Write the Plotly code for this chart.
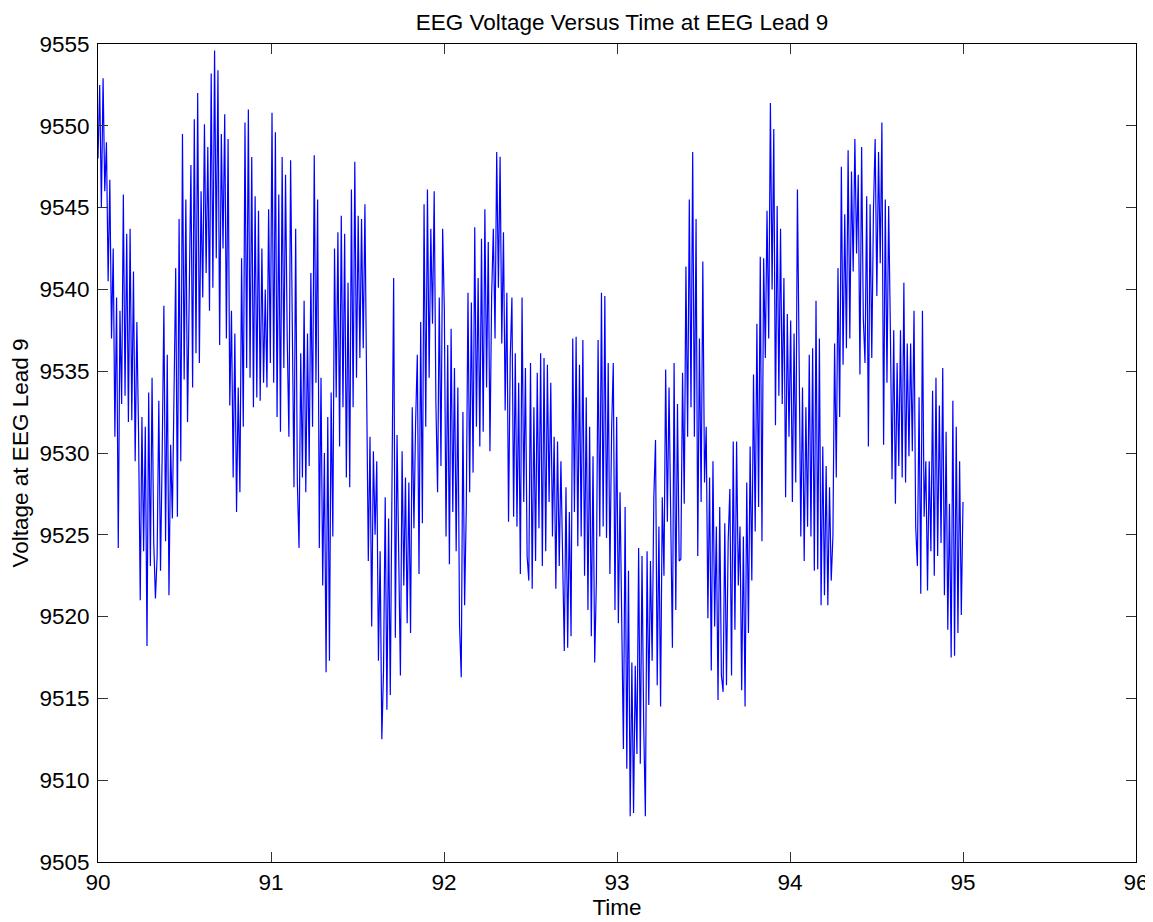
import numpy as np
import plotly.graph_objects as go

# EEG lead 9 voltage samples (time 90 s -> 95 s)
t_start = 90.0
t_end = 95.0
voltage = [
    9548.0, 9552.5, 9545.0, 9552.9, 9546.0,
    9549.0, 9540.5, 9546.7, 9537.0, 9542.5,
    9531.0, 9539.5, 9524.2, 9538.7, 9533.0,
    9545.8, 9533.5, 9543.4, 9531.9, 9543.7,
    9532.0, 9541.1, 9529.5, 9538.0, 9531.3,
    9521.0, 9532.2, 9524.0, 9531.6, 9518.2,
    9533.7, 9523.1, 9534.6, 9524.5, 9521.1,
    9523.7, 9533.2, 9522.8, 9530.0, 9539.0,
    9524.6, 9536.0, 9521.3, 9530.5, 9526.0,
    9532.8, 9541.3, 9526.1, 9544.3, 9529.5,
    9549.5, 9534.5, 9545.5, 9531.9, 9540.0,
    9547.6, 9534.0, 9550.4, 9536.1, 9552.0,
    9535.5, 9546.0, 9539.5, 9550.1, 9541.0,
    9548.7, 9538.7, 9553.2, 9540.1, 9554.6,
    9541.9, 9553.4, 9536.6, 9549.5, 9542.5,
    9550.7, 9537.0, 9549.2, 9532.9, 9538.7,
    9528.5, 9537.3, 9526.4, 9534.0, 9527.6,
    9541.9, 9531.6, 9550.2, 9535.2, 9551.0,
    9534.6, 9548.1, 9532.8, 9545.7, 9533.4,
    9544.8, 9533.2, 9542.5, 9534.3, 9540.0,
    9534.0, 9544.9, 9535.5, 9550.8, 9534.3,
    9549.6, 9532.2, 9545.8, 9531.3, 9548.1,
    9535.2, 9547.0, 9537.0, 9531.0, 9547.9,
    9537.5, 9527.9, 9543.7, 9528.2, 9524.2,
    9536.1, 9528.5, 9539.3, 9527.6, 9537.3,
    9529.2, 9541.0, 9531.6, 9548.2, 9534.3,
    9545.5, 9524.2, 9534.6, 9521.9, 9530.0,
    9516.6, 9532.2, 9517.3, 9533.7, 9524.9,
    9542.5, 9533.4, 9543.5, 9530.4, 9544.5,
    9532.8, 9543.4, 9528.5, 9540.4, 9527.9,
    9546.1, 9532.8, 9547.8, 9534.6, 9544.5,
    9535.8, 9544.3, 9536.4, 9545.2, 9534.0,
    9523.4, 9531.0, 9519.4, 9530.1, 9525.0,
    9529.5, 9517.3, 9524.0, 9512.5, 9516.7,
    9527.3, 9514.3, 9526.0, 9515.2, 9528.2,
    9540.7, 9518.7, 9531.1, 9523.7, 9516.4,
    9530.1, 9521.9, 9528.5, 9519.6, 9528.2,
    9519.0, 9532.8, 9525.4, 9531.9, 9536.0,
    9522.6, 9538.0, 9525.7, 9545.2, 9531.6,
    9546.1, 9534.6, 9543.7, 9537.9, 9546.0,
    9533.1, 9527.6, 9539.5, 9529.2, 9543.7,
    9538.7, 9524.9, 9536.6, 9523.2, 9537.6,
    9526.4, 9535.2, 9524.0, 9534.0, 9519.5,
    9516.3, 9532.5, 9520.7, 9526.7, 9539.8,
    9527.6, 9539.2, 9528.8, 9543.8, 9531.6,
    9540.7, 9530.4, 9543.1, 9531.3, 9544.9,
    9534.0, 9542.9, 9530.1, 9539.6, 9543.7,
    9537.0, 9548.4, 9540.1, 9548.1, 9536.7,
    9543.5, 9532.6, 9539.8, 9525.8, 9535.8,
    9539.5, 9526.1, 9536.1, 9525.5, 9534.3,
    9522.6, 9539.5, 9527.0, 9535.2, 9523.7,
    9522.2, 9535.5, 9521.7, 9532.8, 9523.4,
    9534.9, 9525.4, 9536.1, 9523.1, 9535.8,
    9524.0, 9535.4, 9527.0, 9534.3, 9524.9,
    9531.0, 9521.7, 9530.7, 9523.1, 9529.5,
    9523.4, 9517.9, 9527.9, 9518.1, 9526.4,
    9518.8, 9537.0, 9526.4, 9537.1, 9524.3,
    9535.4, 9524.9, 9536.9, 9522.5, 9533.4,
    9520.4, 9531.6, 9518.8, 9529.8, 9517.2,
    9522.2, 9536.9, 9524.9, 9539.8, 9525.5,
    9539.6, 9524.8, 9535.5, 9522.6, 9531.4,
    9535.5, 9520.4, 9532.2, 9519.6, 9527.6,
    9519.3, 9511.9, 9526.7, 9510.7, 9522.8,
    9507.8, 9517.2, 9508.0, 9517.0, 9511.6,
    9524.2, 9511.0, 9523.7, 9513.4, 9507.8,
    9524.0, 9514.6, 9523.4, 9517.3, 9527.3,
    9530.8, 9515.8, 9525.5, 9514.5, 9527.3,
    9522.5, 9535.1, 9525.8, 9534.0, 9526.7,
    9518.1, 9535.5, 9520.4, 9533.0, 9523.4,
    9523.5, 9534.9, 9526.9, 9541.4, 9531.0,
    9545.5, 9532.8, 9548.4, 9531.0, 9544.3,
    9523.7, 9537.0, 9527.0, 9541.7, 9528.2,
    9531.6, 9519.9, 9528.5, 9516.7, 9529.5,
    9519.4, 9525.5, 9514.9, 9526.7, 9516.4,
    9515.4, 9525.7, 9515.8, 9524.6, 9527.8,
    9516.4, 9530.7, 9519.2, 9530.7, 9521.9,
    9525.5, 9515.5, 9524.9, 9514.5, 9528.2,
    9519.0, 9530.4, 9522.2, 9534.8, 9525.2,
    9537.9, 9526.7, 9542.0, 9524.6, 9541.9,
    9535.8, 9544.8, 9537.0, 9551.4, 9540.0,
    9549.8, 9531.7, 9545.1, 9533.5, 9543.7,
    9533.0, 9540.7, 9527.3, 9538.5, 9531.0,
    9538.1, 9527.0, 9537.3, 9528.2, 9546.1,
    9535.8, 9524.9, 9534.0, 9523.4, 9532.8,
    9525.5, 9536.0, 9524.9, 9536.4, 9522.8,
    9539.3, 9522.9, 9537.0, 9520.7, 9530.4,
    9521.3, 9529.2, 9520.7, 9527.9, 9522.2,
    9524.9, 9536.7, 9528.5, 9541.3, 9532.2,
    9547.5, 9535.4, 9544.6, 9536.4, 9548.5,
    9537.0, 9547.2, 9541.1, 9549.2, 9542.2,
    9547.0, 9534.8, 9548.7, 9538.2, 9535.5,
    9545.7, 9530.4, 9545.2, 9535.8, 9544.9,
    9549.2, 9539.6, 9548.4, 9541.6, 9550.2,
    9530.5, 9545.5, 9534.3, 9545.1, 9537.6,
    9528.4, 9537.5, 9526.9, 9535.5, 9529.2,
    9537.5, 9528.5, 9540.4, 9528.2, 9536.7,
    9529.8, 9536.7, 9530.1, 9538.7, 9525.5,
    9523.1, 9533.4, 9521.4, 9538.7, 9526.1,
    9529.5, 9521.6, 9529.5, 9524.0, 9533.8,
    9522.5, 9534.6, 9523.7, 9532.9, 9524.5,
    9535.2, 9521.3, 9531.3, 9519.2, 9526.9,
    9517.5, 9533.2, 9517.6, 9531.6, 9519.0,
    9529.5, 9520.1, 9527.0,
]
time = np.linspace(t_start, t_end, len(voltage))

x_ticks = [90, 91, 92, 93, 94, 95, 96]
y_ticks = [9505, 9510, 9515, 9520, 9525, 9530, 9535, 9540, 9545, 9550, 9555]

title_text = "EEG Voltage Versus Time at EEG Lead 9"
x_label = "Time"
y_label = "Voltage at EEG Lead 9"

FONT = "Liberation Sans, Arial, Helvetica, sans-serif"
FS = 22.5

# the page body adds an 8px offset, so the figure is sized to fill the rest
W, H = 1145, 914

fig = go.Figure(
    go.Scatter(x=time, y=voltage, mode="lines",
               line=dict(color="#0000FF", width=1.2), hoverinfo="skip")
)

axis_common = dict(
    showline=True, linecolor="black", linewidth=1, mirror="ticks",
    ticks="inside", ticklen=10, tickcolor="#333333", tickwidth=1,
    showgrid=False, zeroline=False, automargin=False,
    tickfont=dict(family=FONT, size=FS, color="black"),
)

fig.update_layout(
    width=W, height=H,
    margin=dict(l=90, r=17, t=36, b=60, autoexpand=False),
    paper_bgcolor="white", plot_bgcolor="white",
    font=dict(family=FONT, size=FS, color="black"),
    showlegend=False,
    title=dict(text=title_text, x=614 / W, xref="container", xanchor="center",
               y=1 - 14 / H, yref="container", yanchor="middle",
               font=dict(family=FONT, size=FS, color="black")),
    xaxis=dict(range=[90, 96], tickvals=x_ticks, ticktext=[str(v) for v in x_ticks],
               title=dict(text=x_label, standoff=3, font=dict(family=FONT, size=FS)),
               **axis_common),
    yaxis=dict(range=[9505, 9555], tickvals=y_ticks, ticktext=[str(v) for v in y_ticks],
               ticklabelstandoff=3,
               title=dict(text=y_label, standoff=6, font=dict(family=FONT, size=FS)),
               **axis_common),
)

fig.write_html("out.html")
